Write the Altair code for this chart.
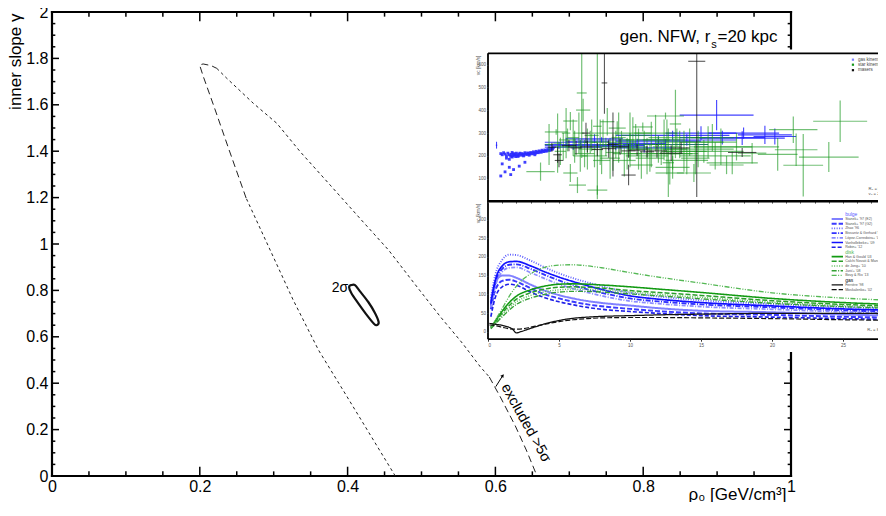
import altair as alt
import pandas as pd

FONT = "Liberation Sans"

# ---------------- main panel values ----------------
x_major = [0.0, 0.2, 0.4, 0.6, 0.8, 1.0]
y_major = [0.0, 0.2, 0.4, 0.6, 0.8, 1.0, 1.2, 1.4, 1.6, 1.8, 2.0]

contour_x = [0.4645, 0.3954, 0.3606, 0.3263, 0.2952, 0.2627, 0.2397, 0.2194, 0.2045, 0.1997,
             0.2045, 0.2153, 0.2230, 0.2366, 0.2726, 0.3043, 0.3358, 0.3764, 0.4171, 0.4554,
             0.4915, 0.5254, 0.5552, 0.5795, 0.5917, 0.6066, 0.6269, 0.6418, 0.6563]
contour_y = [0.000, 0.362, 0.543, 0.759, 0.974, 1.198, 1.405, 1.591, 1.724, 1.772,
             1.776, 1.769, 1.757, 1.714, 1.606, 1.520, 1.398, 1.254, 1.109, 0.974,
             0.825, 0.687, 0.573, 0.471, 0.427, 0.341, 0.216, 0.112, 0.000]
contour_short = [(0, 5), (12, 24)]
contour_long = [(5, 12), (24, 28)]

sigma2_x = [0.405, 0.410, 0.4165, 0.428, 0.437, 0.442, 0.440, 0.436, 0.425, 0.414, 0.405, 0.402]
sigma2_y = [0.823, 0.823, 0.797, 0.750, 0.703, 0.664, 0.651, 0.655, 0.698, 0.746, 0.789, 0.815]

# ---------------- inset: rotation-curve data ----------------
gas_pts_R = [0.9, 1.0, 1.1, 1.2, 1.3, 1.4, 1.5, 1.6, 1.7, 1.8, 1.9, 2.0, 2.2, 2.4, 2.6, 2.8, 3.0,
             3.2, 3.4, 3.6, 3.8, 4.0, 4.2, 4.4, 4.6, 1.3, 1.5, 1.7, 2.1, 2.5, 2.9, 3.3, 1.0, 1.5,
             1.8, 2.2, 0.9, 1.6, 2.6, 1.2,
             1.65, 1.75, 1.85, 1.95, 2.05, 2.15, 2.25, 2.35, 2.45, 2.55, 2.65, 2.75, 2.85, 2.95,
             3.05, 3.15, 3.25, 3.35, 3.45, 3.55, 3.65, 3.75, 3.85, 3.95, 4.05, 4.15, 4.25, 4.35,
             4.45, 4.55]
gas_pts_v = [210, 205, 214, 208, 200, 212, 205, 198, 215, 210, 203, 212, 208, 210, 214, 213, 215,
             218, 220, 222, 225, 226, 228, 232, 236, 190, 185, 195, 198, 200, 203, 205, 165, 150,
             140, 155, 112, 118, 172, 130,
             207, 200, 206, 197, 205, 200, 212, 203, 207, 204, 209, 206, 210, 208,
             211, 209, 213, 212, 215, 214, 218, 216, 220, 219, 222, 221, 225, 224,
             228, 230]

gas_R = [0.6, 5.0, 5.5, 6.0, 6.5, 7.0, 7.5, 8.0, 8.5, 9.0, 10.5, 11.0, 12.0, 12.5, 13.0, 14.0,
         15.0, 16.1, 16.5, 17.9, 18.0, 19.5, 20.2]
gas_v = [247, 245, 260, 238, 250, 262, 275, 270, 245, 240, 255, 235, 265, 250, 290, 270, 300,
         379, 280, 278, 300, 292, 285]
gas_xe = [0.05, 1.0, 1.5, 2.0, 2.5, 1.5, 2.0, 2.0, 2.5, 1.5, 2.0, 2.0, 3.0, 3.0, 4.0, 3.5, 2.5,
          2.6, 3.0, 3.0, 2.5, 1.9, 1.5]
gas_ye = [15, 15, 20, 12, 18, 15, 20, 12, 20, 15, 20, 20, 20, 25, 20, 25, 30, 66, 30, 30, 25, 40, 35]

star_R = [3.7, 4.3, 4.8, 4.9, 5.3, 5.5, 5.8, 5.8, 6.0, 6.3, 6.5, 6.6, 6.7, 7.0, 7.2, 7.7, 7.7, 8.0,
          8.3, 8.8, 9.1, 9.4, 9.6, 10.0, 10.0, 10.4, 10.9, 11.2, 11.5, 12.0, 12.4, 12.5, 12.7, 12.8,
          13.0, 13.2, 13.5, 14.0, 14.5, 14.8, 15.5, 16.0, 16.8, 17.2, 17.5, 18.6, 20.4, 21.5, 21.7,
          22.2, 24.0, 24.8,
          5.1, 5.6, 6.1, 6.4, 6.8, 7.3, 7.5, 7.9, 8.1, 8.6, 9.0, 9.2, 9.8, 10.2, 10.6, 11.0, 11.4,
          11.8, 12.2, 12.6, 13.3, 13.8, 14.2, 14.6, 15.2, 15.8, 16.4, 8.4, 10.8, 13.0]
star_v = [131, 250, 305, 256, 240, 300, 125, 353, 280, 72, 200, 476, 401, 230, 260, 50, 330, 180,
          240, 215, 322, 260, 180, 240, 270, 290, 327, 200, 250, 230, 270, 375, 170, 125, 210, 340,
          250, 180, 125, 230, 260, 200, 160, 169, 240, 212, 207, 315, 227, 159, 195, 352,
          220, 270, 240, 300, 210, 290, 200, 260, 300, 190, 250, 280, 210, 300, 230, 270, 190,
          300, 210, 240, 280, 220, 260, 190, 220, 280, 240, 350, 160, 150]
star_xe = [1.0, 0.3, 0.8, 0.3, 0.6, 0.3, 0.5, 0.5, 0.4, 0.6, 0.5, 0.35, 0.5, 0.6, 0.5, 0.7, 0.3,
           0.6, 0.8, 0.5, 0.6, 1.0, 0.8, 1.2, 0.3, 1.0, 0.7, 1.5, 1.2, 2.0, 1.5, 1.3, 0.4, 1.0,
           1.8, 0.4, 2.0, 1.5, 1.2, 2.5, 2.0, 2.5, 1.2, 1.8, 3.0, 1.0, 1.4, 1.7, 1.5, 1.4, 2.1, 1.9,
           0.4, 0.6, 0.5, 0.4, 0.7, 0.5, 0.9, 0.6, 0.8, 0.7, 1.2, 0.5, 1.0, 1.3, 0.8, 1.8, 1.0,
           1.5, 2.2, 1.0, 2.0, 1.6, 2.4, 1.0, 2.8, 1.5, 2.2, 0.5, 0.8, 1.2]
star_ye = [40, 90, 12, 130, 60, 110, 40, 40, 80, 35, 70, 285, 50, 90, 50, 20, 320, 60, 40, 80,
           30, 50, 70, 60, 120, 50, 20, 80, 100, 60, 90, 15, 150, 50, 70, 150, 60, 60, 40, 80, 70,
           60, 40, 50, 60, 45, 72, 58, 71, 137, 66, 91,
           60, 50, 70, 90, 60, 70, 50, 100, 60, 90, 60, 110, 70, 70, 90, 40, 60,
           80, 50, 120, 40, 90, 60, 70, 50, 60, 80, 60, 60, 50]

maser_R = [4.5, 4.9, 5.0, 5.7, 6.2, 6.9, 7.0, 7.7, 8.2, 8.5, 8.8, 9.3, 9.9, 9.9, 10.5, 11.2,
           11.9, 12.9, 13.6, 14.7, 17.9]
maser_v = [238, 205, 180, 245, 235, 300, 240, 228, 520, 232, 250, 240, 116, 222, 225, 218, 222,
           212, 235, 615, 215]
maser_xe = [0.3, 0.3, 0.3, 0.5, 0.4, 0.3, 0.5, 0.4, 0.2, 0.5, 0.4, 0.6, 0.5, 0.5, 0.6, 0.5, 0.7,
            0.8, 0.6, 0.6, 1.0]
maser_ye = [20, 35, 30, 25, 30, 45, 25, 30, 135, 40, 140, 35, 45, 30, 25, 25, 30, 35, 25, 595, 20]

data_legend = ["gas kinematics", "star kinematics", "masers"]

# ---------------- inset: baryonic model curves ----------------
curve_R = [0.2, 0.5, 1.0, 1.5, 2.0, 3.0, 4.0, 5.0, 6.0, 7.0, 8.0, 10.0, 12.0, 15.0, 20.0, 25.0, 30.0]
bulge_names = ["Stanek+ '97 (E2)", "Stanek+ '97 (G2)", "Zhao '96", "Bissantz & Gerhard '02",
               "López-Corredoira+ '07", "Vanhollebeke+ '09", "Robin+ '12"]
bulge_v = [
    [80, 130, 150, 150, 144, 126, 110, 98, 89, 82, 77, 70, 63, 56, 52, 46, 42],
    [60, 110, 136, 139, 134, 116, 100, 89, 80, 73, 68, 61, 55, 49, 45, 40, 37],
    [90, 150, 192, 206, 205, 190, 172, 156, 143, 132, 122, 104, 94, 84, 74, 66, 60],
    [70, 128, 168, 179, 180, 168, 152, 137, 124, 113, 104, 89, 81, 73, 65, 57, 52],
    [65, 120, 160, 171, 172, 158, 142, 127, 115, 105, 96, 82, 75, 67, 60, 53, 48],
    [75, 135, 176, 187, 188, 176, 160, 146, 134, 123, 113, 96, 87, 78, 69, 61, 56],
    [40, 90, 120, 127, 124, 106, 91, 80, 72, 65, 60, 54, 49, 43, 39, 35, 32],
]
disk_names = ["Han & Gould '03", "Calchi Novati & Mancini '11", "de Jong+ '10", "Jurić+ '08",
              "Bovy & Rix '13"]
disk_v = [
    [12, 28, 55, 78, 95, 112, 122, 127, 128, 127, 125, 120, 114, 105, 89, 78, 71],
    [10, 25, 50, 70, 87, 104, 114, 119, 120, 119, 117, 110, 105, 97, 83, 73, 66],
    [9, 22, 45, 64, 80, 97, 107, 112, 114, 113, 111, 106, 100, 92, 79, 70, 63],
    [8, 20, 40, 58, 73, 90, 100, 106, 108, 108, 106, 101, 96, 88, 76, 67, 61],
    [12, 30, 62, 95, 122, 155, 172, 178, 179, 176, 171, 158, 146, 130, 104, 90, 82],
]
gas_names = ["Ferrière '98", "Moskalenko+ '02"]
ferr_R = [0.1, 0.5, 1.0, 1.4, 1.7, 2.0, 2.3, 2.7, 3.0, 3.5, 4.0, 5.0, 6.0, 7.0, 8.0, 10.0, 12.0,
          15.0, 20.0, 25.0, 30.0]
ferr_v = [22, 20, 17, 13, 8, -3, 0, 5, 9, 15, 21, 30, 36, 39, 41, 43, 45, 47, 49, 49, 48]
mosk_R = [0.1, 0.5, 1.0, 1.5, 2.0, 2.5, 3.0, 4.0, 5.0, 6.0, 7.0, 8.0, 10.0, 12.0, 15.0, 20.0,
          25.0, 30.0]
mosk_v = [18, 16, 12, 8, 7, 8, 12, 20, 27, 32, 35, 37, 38, 38, 37, 35, 32, 30]

curve_names = bulge_names + disk_names + gas_names
curve_colors = ["#8080ff", "#3a3aff", "#6060ff", "#3030ff", "#8c8cff", "#1010ff", "#2020e8",
                "#129a12", "#2a9e2a", "#5cbc5c", "#34a034", "#55b855", "#111111", "#111111"]
curve_dash = [[1, 0], [5, 2], [1, 1.5], [5, 1.5, 1, 1.5], [4, 1.5, 1, 1.5], [1, 0], [4, 2],
              [1, 0], [5, 2], [1, 1.5], [5, 1.5, 1, 1.5], [5, 1.5, 1, 1.5, 1, 1.5], [1, 0], [5, 2]]
curve_width = [2.0, 1.2, 1.2, 1.2, 1.2, 1.3, 1.3, 1.3, 1.2, 1.2, 1.2, 1.2, 1.3, 1.3]

# ---------------- geometry ----------------
W, H = 739, 464

# main scales / axes
xs = alt.Scale(domain=[0, 1], nice=False, zero=False)
ys = alt.Scale(domain=[0, 2], nice=False, zero=False)
ax_x = alt.Axis(values=x_major, format=".1~f", labelFontSize=16, labelFont=FONT, labelColor="black",
                labelPadding=2, labelFlush=False, labelOverlap=False, ticks=False, tickSize=0,
                domain=False, grid=False, title="ρ₀ [GeV/cm³]", titleFont=FONT, titleFontSize=17,
                titleFontWeight="normal", titleColor="black", titleAlign="right",
                titleBaseline="alphabetic", titleX=W - 5, titleY=23, titleAngle=0)
ax_y = alt.Axis(values=y_major, format=".1~f", labelFontSize=16, labelFont=FONT, labelColor="black",
                labelPadding=4, labelFlush=False, labelOverlap=False, ticks=False, tickSize=0,
                domain=False, grid=False, title="inner slope γ", titleFont=FONT, titleFontSize=17,
                titleFontWeight="normal", titleColor="black", titleAngle=270, titleAlign="right",
                titleBaseline="bottom", titleX=-28, titleY=1)


def MX(f):
    return alt.X(f, type="quantitative", scale=xs, axis=ax_x)


def MY(f):
    return alt.Y(f, type="quantitative", scale=ys, axis=ax_y)


def piece(a, b, name):
    return pd.DataFrame({"x": contour_x[a:b + 1], "y": contour_y[a:b + 1],
                         "i": list(range(b - a + 1)), "part": name})


short_df = pd.concat([piece(a, b, f"s{k}") for k, (a, b) in enumerate(contour_short)])
long_df = pd.concat([piece(a, b, f"l{k}") for k, (a, b) in enumerate(contour_long)])

contour_s = alt.Chart(short_df).mark_line(color="#222", strokeWidth=1, strokeDash=[3, 3]).encode(
    x=MX("x"), y=MY("y"), detail="part:N", order="i:Q")
contour_l = alt.Chart(long_df).mark_line(color="#222", strokeWidth=1, strokeDash=[7, 4]).encode(
    x=MX("x"), y=MY("y"), detail="part:N", order="i:Q")

ell_df = pd.DataFrame({"x": sigma2_x, "y": sigma2_y, "i": list(range(len(sigma2_x)))})
ellipse = alt.Chart(ell_df).mark_line(color="#111", strokeWidth=2.2, interpolate="cardinal-closed").encode(
    x=MX("x"), y=MY("y"), order="i:Q")

# ticks (inside, all four sides)
minor_x = [round(k * 0.05, 2) for k in range(21) if k % 4]
minor_y = [round(k * 0.05, 2) for k in range(41) if k % 4]
LXM, LXm, LYM, LYm = 0.040, 0.020, 0.0095, 0.0045
rows = []
for t in x_major:
    rows += [(t, 0, t, LXM), (t, 2, t, 2 - LXM)]
for t in minor_x:
    rows += [(t, 0, t, LXm), (t, 2, t, 2 - LXm)]
for t in y_major:
    rows += [(0, t, LYM, t), (1, t, 1 - LYM, t)]
for t in minor_y:
    rows += [(0, t, LYm, t), (1, t, 1 - LYm, t)]
tick_df = pd.DataFrame(rows, columns=["x", "y", "x2", "y2"])
ticks = alt.Chart(tick_df).mark_rule(color="black", strokeWidth=1.5).encode(
    x=MX("x"), y=MY("y"), x2="x2", y2="y2")

frame_df = pd.DataFrame([(0, 0, 1, 0), (0, 2, 1, 2), (0, 0, 0, 2), (1, 0, 1, 2)],
                        columns=["x", "y", "x2", "y2"])
frame = alt.Chart(frame_df).mark_rule(color="black", strokeWidth=2.2, strokeCap="square").encode(
    x=MX("x"), y=MY("y"), x2="x2", y2="y2")


def mtext(x, y, s, **kw):
    d = pd.DataFrame({"x": [x], "y": [y], "t": [s]})
    return alt.Chart(d).mark_text(font=FONT, color="black", **kw).encode(x=MX("x"), y=MY("y"), text="t:N")


t_2sig = mtext(0.4008, 0.793, "2σ", fontSize=14, align="right", baseline="alphabetic")
t_excl = mtext(0.6075, 0.385, "excluded >5σ", fontSize=14.5, align="left", baseline="alphabetic", angle=61)
t_gen = mtext(0.891, 1.871, "gen. NFW, r", fontSize=17, align="right", baseline="alphabetic")
t_sub = mtext(0.8958, 1.8427, "s", fontSize=11, align="center", baseline="alphabetic")
t_rs = mtext(0.9005, 1.871, "=20 kpc", fontSize=17, align="left", baseline="alphabetic")

arrow_df = pd.DataFrame({"x": [0.6005], "y": [0.385], "x2": [0.6100], "y2": [0.4330]})
arrow_shaft = alt.Chart(arrow_df).mark_rule(color="black", strokeWidth=1).encode(
    x=MX("x"), y=MY("y"), x2="x2", y2="y2")
arrow_head = alt.Chart(arrow_df).mark_point(shape="triangle-up", filled=True, color="black", size=14,
                                            angle=36, opacity=1).encode(x=MX("x2"), y=MY("y2"))

main = alt.layer(frame, ticks, contour_s, contour_l, ellipse, t_2sig, t_excl, arrow_shaft, arrow_head,
                 t_gen, t_sub, t_rs)

# ---------------- inset scales / axes ----------------
xs_in = alt.Scale(domain=[0, 30], range=[436, 862], nice=False, zero=False)
ys_top = alt.Scale(domain=[0, 650], range=[189.5, 41.3], nice=False, zero=False)
ys_bot = alt.Scale(domain=[-20, 350], range=[327.2, 188.8], nice=False, zero=False)

ax_in_top_x = alt.Axis(orient="bottom", offset=-(H - 189.5), values=list(range(0, 31)), labels=False,
                       ticks=True, tickSize=1.5, tickColor="#333", domain=False, grid=False, title="",
                       zindex=3)
ax_in_top_y = alt.Axis(orient="left", offset=-436, values=[100, 200, 300, 400, 500, 600],
                       labelFontSize=4.5, labelFont=FONT, labelColor="#555", labelPadding=1,
                       tickSize=1.5, tickColor="#333", domain=False, grid=False, title="vc [km/s]",
                       titleFontSize=5, titleFont=FONT, titleFontWeight="normal", titleColor="#555",
                       titleAngle=270, titleAlign="right", titleBaseline="bottom", titleX=-8,
                       titleY=43, zindex=3)
ax_in_bot_x = alt.Axis(orient="bottom", offset=-(H - 327.2), values=[0, 5, 10, 15, 20, 25],
                       labelFontSize=4.5, labelFont=FONT, labelColor="#555", labelPadding=1,
                       tickSize=2, tickColor="#333", domain=False, grid=False, title="", zindex=3)
ax_in_bot_y = alt.Axis(orient="left", offset=-436, values=[0, 50, 100, 150, 200, 250, 300],
                       labelFontSize=4.5, labelFont=FONT, labelColor="#555", labelPadding=1,
                       tickSize=1.5, tickColor="#333", domain=False, grid=False, title="vc [km/s]",
                       titleFontSize=5, titleFont=FONT, titleFontWeight="normal", titleColor="#555",
                       titleAngle=270, titleAlign="right", titleBaseline="bottom", titleX=-8,
                       titleY=191, zindex=3)


def TX(f):
    return alt.X(f, type="quantitative", scale=xs_in, axis=ax_in_top_x)


def TY(f):
    return alt.Y(f, type="quantitative", scale=ys_top, axis=ax_in_top_y)


def BX(f):
    return alt.X(f, type="quantitative", scale=xs_in, axis=ax_in_bot_x)


def BY(f):
    return alt.Y(f, type="quantitative", scale=ys_bot, axis=ax_in_bot_y)


# inset background
bg_df = pd.DataFrame({"x0": [-1.0], "x1": [32.0], "y0": [-660.0], "y1": [667.0]})
inset_bg = alt.Chart(bg_df).mark_rect(color="white", opacity=1).encode(
    x=TX("x0"), x2="x1", y=TY("y0"), y2="y1")


def bars_df(R, v, xe, ye):
    d = pd.DataFrame({"R": R, "v": v, "xe": xe, "ye": ye})
    d["xlo"] = d["R"] - d["xe"]
    d["xhi"] = d["R"] + d["xe"]
    d["ylo"] = (d["v"] - d["ye"]).clip(lower=0)
    d["yhi"] = (d["v"] + d["ye"]).clip(upper=650)
    return d


def bar_layers(d, color, op, sw):
    h = alt.Chart(d).mark_rule(color=color, opacity=op, strokeWidth=sw).encode(
        x=TX("xlo"), x2="xhi", y=TY("v"))
    v = alt.Chart(d).mark_rule(color=color, opacity=op, strokeWidth=sw).encode(
        x=TX("R"), y=TY("ylo"), y2="yhi")
    return [h, v]


gas_pts = alt.Chart(pd.DataFrame({"R": gas_pts_R, "v": gas_pts_v})).mark_square(
    color="#2b2bff", size=8, opacity=0.9).encode(x=TX("R"), y=TY("v"))
gas_layers = bar_layers(bars_df(gas_R, gas_v, gas_xe, gas_ye), "#2020ff", 0.85, 1.1)
star_layers = bar_layers(bars_df(star_R, star_v, star_xe, star_ye), "#16961a", 0.6, 1.2)
maser_layers = bar_layers(bars_df(maser_R, maser_v, maser_xe, maser_ye), "#111111", 0.7, 1.1)

top_frame_df = pd.DataFrame([(0, 0, 0, 650), (0, 650, 30, 650), (0, 0, 30, 0)],
                            columns=["x", "y", "x2", "y2"])
top_frame = alt.Chart(top_frame_df).mark_rule(color="black", strokeWidth=1.8).encode(
    x=TX("x"), y=TY("y"), x2="x2", y2="y2")

leg_top_df = pd.DataFrame({"label": data_legend, "R": [25.7, 25.7, 25.7], "Rt": [26.05, 26.05, 26.05],
                           "v": [622, 600, 576], "c": ["#8080ff", "#16961a", "#111111"]})
leg_top_sym = alt.Chart(leg_top_df).mark_square(size=5, opacity=1).encode(
    x=TX("R"), y=TY("v"), color=alt.Color("c:N", scale=None))
leg_top_txt = alt.Chart(leg_top_df).mark_text(font=FONT, fontSize=4.5, align="left", baseline="middle",
                                              color="#444").encode(x=TX("Rt"), y=TY("v"), text="label:N")
r0_df = pd.DataFrame({"R": [26.8, 26.8], "v": [53, 31], "t": ["R₀ = 8 kpc", "v₀ = 230 km/s"]})
r0_txt = alt.Chart(r0_df).mark_text(font=FONT, fontSize=4.2, align="left", baseline="middle",
                                    color="#555").encode(x=TX("R"), y=TY("v"), text="t:N")

top = alt.layer(inset_bg, gas_pts, *gas_layers, *star_layers, *maser_layers, top_frame,
                leg_top_sym, leg_top_txt, r0_txt)

# ---------------- inset bottom: model curves ----------------
recs = []
for name, vals in zip(bulge_names + disk_names, bulge_v + disk_v):
    for i, (r, v) in enumerate(zip(curve_R, vals)):
        recs.append((name, r, v, i))
for i, (r, v) in enumerate(zip(ferr_R, ferr_v)):
    recs.append((gas_names[0], r, v, i))
for i, (r, v) in enumerate(zip(mosk_R, mosk_v)):
    recs.append((gas_names[1], r, v, i))
curve_df = pd.DataFrame(recs, columns=["curve", "R", "v", "i"])

cscale = alt.Scale(domain=curve_names, range=curve_colors)
dscale = alt.Scale(domain=curve_names, range=curve_dash)
wscale = alt.Scale(domain=curve_names, range=curve_width)

curves = alt.Chart(curve_df).mark_line(interpolate="monotone").encode(
    x=BX("R"), y=BY("v"),
    color=alt.Color("curve:N", scale=cscale, legend=None),
    strokeDash=alt.StrokeDash("curve:N", scale=dscale, legend=None),
    strokeWidth=alt.StrokeWidth("curve:N", scale=wscale, legend=None),
    order="i:Q")

# legend of the bottom inset
leg_rows = []
row = 0
for header, names, hc in [("bulge", bulge_names, "#5a5aff"), ("disk", disk_names, "#55b855"),
                          ("gas", gas_names, "#111111")]:
    leg_rows.append(("h", header, hc, row))
    row += 1
    for n in names:
        leg_rows.append(("i", n, "", row))
        row += 1
leg_df = pd.DataFrame(leg_rows, columns=["kind", "label", "hc", "row"])
leg_df["v"] = 313.9 - 12.57 * leg_df["row"]
leg_df["R0"] = 24.2
leg_df["R1"] = 25.0
leg_df["Rt"] = 25.15
leg_items = leg_df[leg_df["kind"] == "i"].rename(columns={"label": "curve"})
leg_heads = leg_df[leg_df["kind"] == "h"]

leg_lines = alt.Chart(leg_items).mark_rule().encode(
    x=BX("R0"), x2="R1", y=BY("v"),
    color=alt.Color("curve:N", scale=cscale, legend=None),
    strokeDash=alt.StrokeDash("curve:N", scale=dscale, legend=None),
    strokeWidth=alt.StrokeWidth("curve:N", scale=wscale, legend=None))
leg_txt = alt.Chart(leg_items).mark_text(font=FONT, fontSize=3.6, align="left", baseline="middle",
                                         color="#555").encode(x=BX("Rt"), y=BY("v"), text="curve:N")
leg_head = alt.Chart(leg_heads).mark_text(font=FONT, fontSize=5, align="left", baseline="middle").encode(
    x=BX("Rt"), y=BY("v"), text="label:N", color=alt.Color("hc:N", scale=None))

bot_frame_df = pd.DataFrame([(0, -20, 0, 350), (0, -20, 30, -20), (0, 350, 30, 350)],
                            columns=["x", "y", "x2", "y2"])
bot_frame = alt.Chart(bot_frame_df).mark_rule(color="black", strokeWidth=1.8).encode(
    x=BX("x"), y=BY("y"), x2="x2", y2="y2")
r0b = alt.Chart(pd.DataFrame({"R": [26.7], "v": [5], "t": ["R₀ = 8 kpc"]})).mark_text(
    font=FONT, fontSize=4.2, align="left", baseline="middle", color="#555").encode(
    x=BX("R"), y=BY("v"), text="t:N")

bottom = alt.layer(curves, leg_lines, leg_txt, leg_head, bot_frame, r0b)

chart = alt.layer(main, top, bottom).resolve_scale(
    x="independent", y="independent"
).properties(
    width=W, height=H,
    autosize=alt.AutoSizeParams(type="none"),
    padding={"left": 44, "top": 4, "right": 87, "bottom": 26},
).configure(font=FONT).configure_view(stroke="transparent")

chart.save("out.html", embed_options={"renderer": "svg", "actions": False})
